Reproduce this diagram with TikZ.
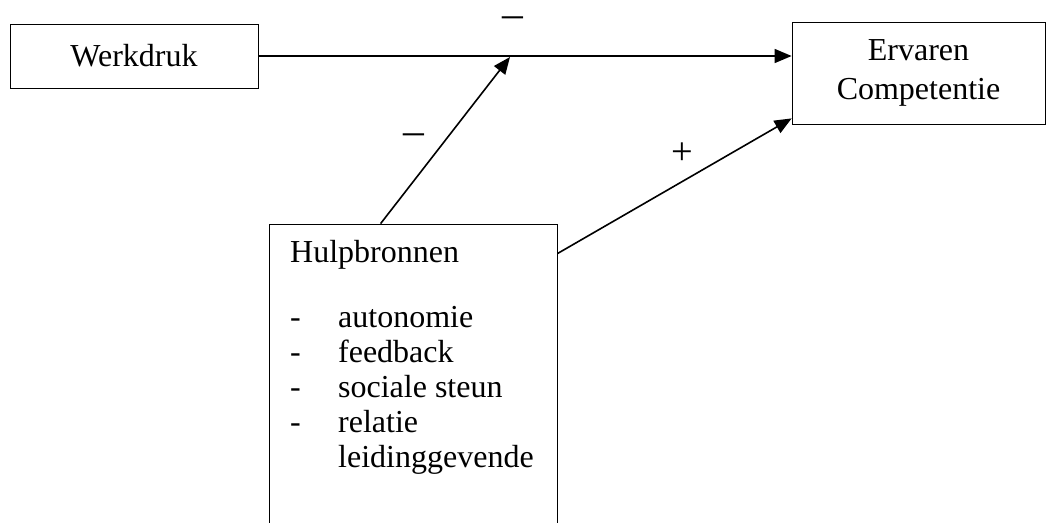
\documentclass[tikz,border=0pt]{standalone}
\usepackage{fontspec}
\setmainfont{Liberation Serif}
\usetikzlibrary{arrows.meta}
\begin{document}
\begin{tikzpicture}[x=1pt,y=-1pt,
  box/.style={draw, line width=0.8pt, inner sep=0pt},
  conn/.style={line width=1.6pt, -{Triangle[length=17pt,width=14pt]}},
  lbl/.style={inner sep=0pt, font=\fontsize{32}{35}\selectfont},
  every node/.append style={font=\fontsize{32}{35}\selectfont}]
\useasboundingbox (0,0) rectangle (1046,522);
\clip (0,0) rectangle (1046,522);
\node[box, minimum width=248pt, minimum height=64pt] (W) at (134,56) {Werkdruk};
\node[box, minimum width=253pt, minimum height=102pt, align=center,
      font=\fontsize{32}{39}\selectfont] (E) at (918.5,73) {Ervaren\\Competentie};
\node[box, minimum width=288pt, minimum height=340pt] (H) at (413,394) {};
\node[inner sep=0pt, anchor=north west, align=left] (Ht) at (290,240)
  {Hulpbronnen\\[30pt]
   \makebox[48pt][l]{-}autonomie\\
   \makebox[48pt][l]{-}feedback\\
   \makebox[48pt][l]{-}sociale steun\\
   \makebox[48pt][l]{-}relatie\\
   \hspace*{48pt}leidinggevende};
\coordinate (m) at (510,57);
\draw[conn] (W.east) -- (W.east -| E.west);
\draw[conn] ([xshift=112pt]H.north west) -- (m);
\draw[conn] ([yshift=-30pt]H.north east) -- ([yshift=6pt]E.south west);
\node[lbl] (l1) at (513,22) {\scalebox{1.3}[1.3]{–}};
\node[lbl] (l2) at (414,139) {\scalebox{1.3}[1.3]{–}};
\node[lbl] (l3) at (682,154) {\scalebox{1.2}{+}};
\end{tikzpicture}
\end{document}
